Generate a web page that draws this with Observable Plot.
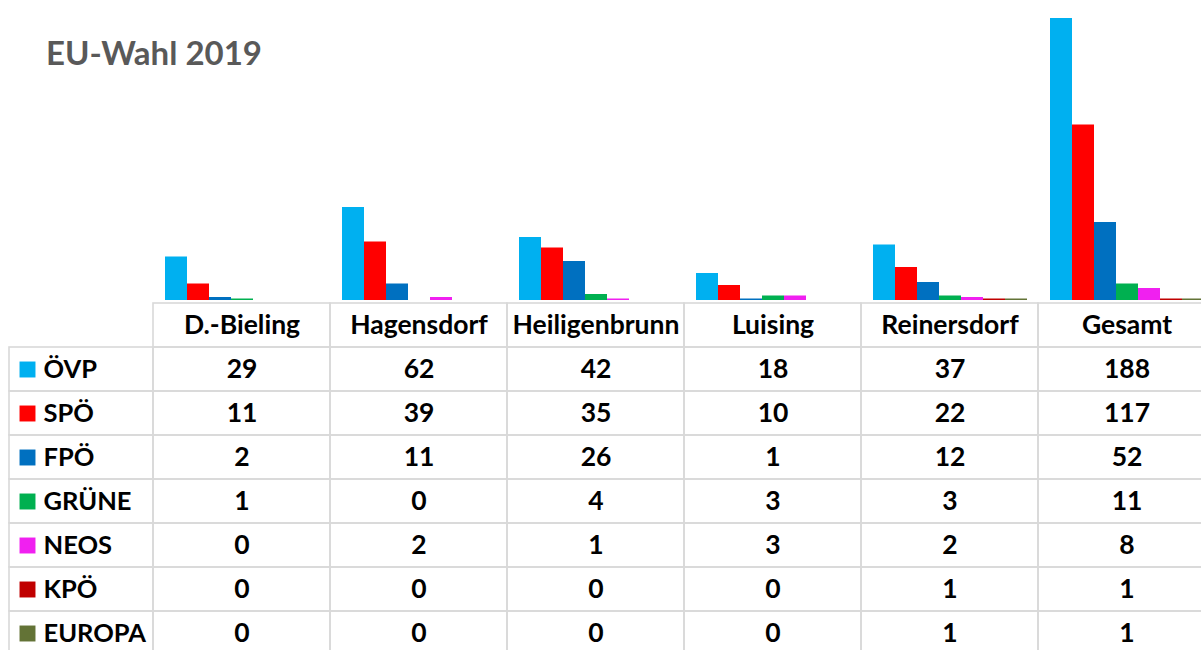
<!DOCTYPE html>
<html><head><meta charset="utf-8">
<script src="https://cdn.jsdelivr.net/npm/d3@7"></script>
<script src="https://cdn.jsdelivr.net/npm/@observablehq/plot@0.6"></script>
<style>
html,body{margin:0;padding:0;background:#fff;overflow:hidden;}
#wrap{position:relative;width:1201px;height:650px;overflow:hidden;}
#title{position:absolute;left:46px;top:32px;font-family:Lato;font-weight:bold;font-size:33px;color:#595959;white-space:nowrap;}
svg{display:block;overflow:hidden}
</style></head><body>
<div id="wrap"><div id="chart"></div><div id="table"></div><div id="title">EU-Wahl 2019</div></div>
<script>
const titleText = "EU-Wahl 2019";
const locations = ["D.-Bieling","Hagensdorf","Heiligenbrunn","Luising","Reinersdorf","Gesamt"];
const parties = ["ÖVP","SPÖ","FPÖ","GRÜNE","NEOS","KPÖ","EUROPA"];
const partyColors = ["#00b0f0","#ff0000","#0070c0","#00b050","#f020f0","#c00000","#637336"];
const oevp   = [29,62,42,18,37,188];
const spoe   = [11,39,35,10,22,117];
const fpoe   = [2,11,26,1,12,52];
const gruene = [1,0,4,3,3,11];
const neos   = [0,2,1,3,2,8];
const kpoe   = [0,0,0,0,1,1];
const europa = [0,0,0,0,1,1];
const headerKey = "Ort";

const series = [oevp, spoe, fpoe, gruene, neos, kpoe, europa];
const data = [];
parties.forEach((p, i) => locations.forEach((l, j) => data.push({party: p, location: l, value: series[i][j]})));

const font = "Lato";
const fs = 26.5;
const fsLabel = 25.5;

const chart = Plot.plot({
  width: 1201, height: 300,
  marginLeft: 153, marginRight: -14, marginTop: 0, marginBottom: 0,
  style: {background: "#fff", fontFamily: font},
  facet: {data, x: "location"},
  fx: {domain: locations, axis: null, padding: 0},
  x: {domain: parties, axis: null, paddingInner: 0, paddingOuter: 0.52},
  y: {domain: [0, 200], axis: null},
  color: {domain: parties, range: partyColors},
  marks: [
    Plot.barY(data, {x: "party", y: "value", fill: "party"})
  ]
});
document.getElementById("chart").appendChild(chart);

const headerCells = locations.map(l => ({location: l, party: headerKey}));
const table = Plot.plot({
  width: 1201, height: 358,
  marginLeft: 153, marginRight: -14, marginTop: 0, marginBottom: 0,
  style: {background: "#fff", fontFamily: font},
  x: {domain: locations, axis: null, padding: 0},
  y: {domain: [headerKey, ...parties], axis: null, padding: 0},
  color: {domain: parties, range: partyColors},
  marks: [
    Plot.cell(headerCells.concat(data), {x: "location", y: "party", fill: "none", stroke: "#d9d9d9", strokeWidth: 1.6}),
    Plot.cell(parties, {x: () => locations[0], y: d => d, dx: -144, insetRight: 33, fill: "none", stroke: "#d9d9d9", strokeWidth: 1.6}),
    Plot.text(locations, {x: d => d, y: () => headerKey, text: d => d, fontSize: fs, fontWeight: "bold", fill: "#000"}),
    Plot.text(data, {x: "location", y: "party", text: d => String(d.value), fontSize: fs, fontWeight: "bold", fill: "#000"}),
    Plot.text(parties, {y: d => d, text: d => d, frameAnchor: "left", dx: -110, textAnchor: "start", fontSize: fsLabel, fontWeight: "bold", fill: "#000"}),
    Plot.dot(parties, {y: d => d, frameAnchor: "left", dx: -126, symbol: "square", r: 9, fill: d => d, stroke: "none"})
  ]
});
document.getElementById("table").appendChild(table);
document.getElementById("title").textContent = titleText;
</script>
</body></html>
